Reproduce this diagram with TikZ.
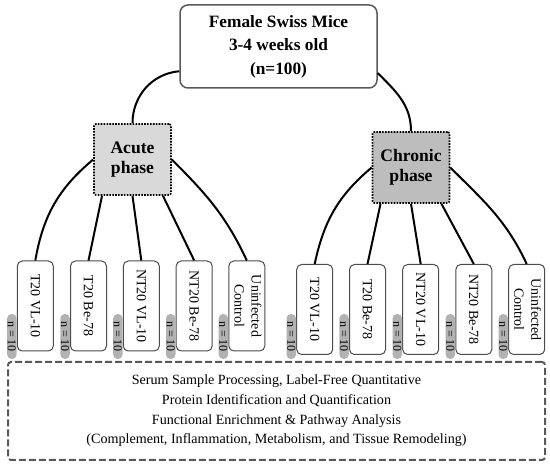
\documentclass[tikz,border=0pt]{standalone}
\usepackage{graphicx}
\usepackage{fontspec}
\setmainfont{Liberation Serif}
\begin{document}
\begin{tikzpicture}[x=1pt,y=1pt,
  mainbox/.style={draw=black!65,line width=1.5pt,rounded corners=8pt,minimum width=197pt,minimum height=83pt,align=center,font=\fontsize{17.3}{23.5}\selectfont\bfseries},
  phasebox/.style={draw=black,line width=1.6pt,dash pattern=on 1.6pt off 1.3pt,rounded corners=2pt,minimum width=77pt,minimum height=71pt,inner sep=0pt,align=center,font=\fontsize{17.6}{19.5}\selectfont\bfseries},
  groupbox/.style={draw=black!70,line width=1pt,rounded corners=5pt,fill=white,minimum width=36pt,minimum height=90pt,inner sep=0pt,font=\fontsize{14}{19}\selectfont},
  pill/.style={fill=black!30,rounded corners=4.5pt,minimum width=9.5pt,minimum height=45pt,inner sep=0pt,anchor=east,font=\fontsize{12}{12}\selectfont},
  analysisbox/.style={draw=black!65,line width=2pt,dash pattern=on 7pt off 3pt,rounded corners=3pt,minimum width=537pt,minimum height=98pt,align=center,font=\fontsize{14.1}{19.7}\selectfont},
  link/.style={line width=2pt}]
\useasboundingbox (0,0) rectangle (550,466);

\coordinate (pillrow) at (0,129.5);

\node[analysisbox] (analysis) at (276.5,55) {Serum Sample Processing, Label-Free Quantitative\\Protein Identification and Quantification\\Functional Enrichment \& Pathway Analysis\\(Complement, Inflammation, Metabolism, and Tissue Remodeling)};

\node[mainbox] (mice) at (278.5,419.5) {Female Swiss Mice\\3-4 weeks old\\(n=100)};
\node[phasebox,fill=black!15] (acute) at (132.5,306.5) {Acute\\phase};
\node[phasebox,fill=black!26] (chronic) at (411,298.5) {Chronic\\phase};

\node[groupbox] (g1) at (35.3,160) {\rotatebox{-90}{T20 VL-10}};
\node[groupbox] (g2) at (88.5,160) {\rotatebox{-90}{T20 Be-78}};
\node[groupbox] (g3) at (141.3,160) {\rotatebox{-90}{NT20 VL-10}};
\node[groupbox] (g4) at (194.2,160) {\rotatebox{-90}{NT20 Be-78}};
\node[groupbox] (g5) at (246.8,160) {\rotatebox{-90}{\begin{tabular}{@{}c@{}}Uninfected\\[-2pt]Control\end{tabular}}};

\node[groupbox] (r1) at (314.7,156.5) {\rotatebox{-90}{T20 VL-10}};
\node[groupbox] (r2) at (367.5,156.5) {\rotatebox{-90}{T20 Be-78}};
\node[groupbox] (r3) at (420.7,156.5) {\rotatebox{-90}{NT20 VL-10}};
\node[groupbox] (r4) at (473.8,156.5) {\rotatebox{-90}{NT20 Be-78}};
\node[groupbox] (r5) at (526.7,156.5) {\rotatebox{-90}{\begin{tabular}{@{}c@{}}Uninfected\\[-2pt]Control\end{tabular}}};

\node[pill] (n1) at (g1.west |- pillrow) {\rotatebox{-90}{n = 10}};
\node[pill] (n2) at (g2.west |- pillrow) {\rotatebox{-90}{n = 10}};
\node[pill] (n3) at (g3.west |- pillrow) {\rotatebox{-90}{n = 10}};
\node[pill] (n4) at (g4.west |- pillrow) {\rotatebox{-90}{n = 10}};
\node[pill] (n5) at (g5.west |- pillrow) {\rotatebox{-90}{n = 10}};
\node[pill] (m1) at (r1.west |- pillrow) {\rotatebox{-90}{n = 10}};
\node[pill] (m2) at (r2.west |- pillrow) {\rotatebox{-90}{n = 10}};
\node[pill] (m3) at (r3.west |- pillrow) {\rotatebox{-90}{n = 10}};
\node[pill] (m4) at (r4.west |- pillrow) {\rotatebox{-90}{n = 10}};
\node[pill] (m5) at (r5.west |- pillrow) {\rotatebox{-90}{n = 10}};

\draw[link] (mice.194) to[out=185,in=90] (acute.north);
\draw[link] (mice.345) to[out=-45,in=90] (chronic.north);

\draw[link] (acute.west) to[out=220,in=80] (g1.north);
\draw[link] (acute.230) -- (g2.north);
\draw[link] (acute.south) -- (g3.north);
\draw[link] (acute.310) -- (g4.north);
\draw[link] (acute.east) to[out=-45,in=115] (g5.north);

\draw[link] (chronic.west) to[out=220,in=78] (r1.north);
\draw[link] (chronic.230) -- (r2.north);
\draw[link] (chronic.south) -- (r3.north);
\draw[link] (chronic.310) -- (r4.north);
\draw[link] (chronic.east) to[out=-45,in=115] (r5.north);
\end{tikzpicture}
\end{document}
